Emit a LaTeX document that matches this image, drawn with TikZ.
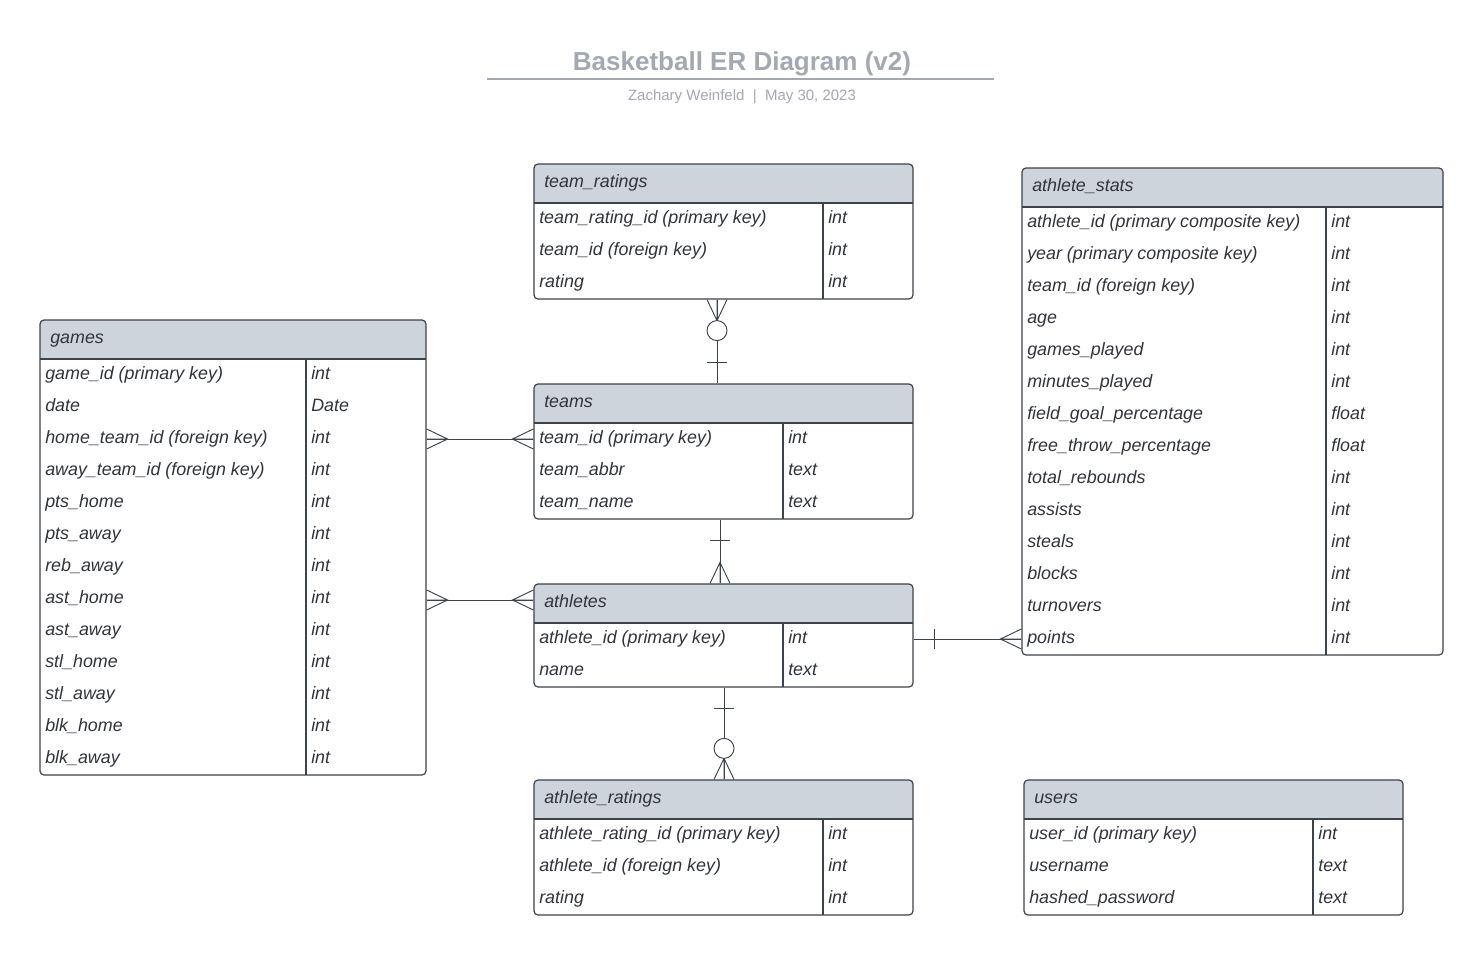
\documentclass[tikz,border=0pt]{standalone}
\usepackage{fontspec}
\setmainfont{Liberation Sans}
\usetikzlibrary{positioning,fit}

\definecolor{erborder}{HTML}{3D434B}
\definecolor{headfill}{HTML}{CED4DB}
\definecolor{ertext}{HTML}{30343B}
\definecolor{titlegray}{HTML}{A3A8B2}

\tikzset{
  fieldtext/.style={anchor=west, inner sep=0pt, text=ertext,
    font=\fontsize{13.4}{15}\selectfont\itshape, text height=9.8pt, text depth=3pt},
  connector/.style={draw=erborder, line width=0.7pt},
  crowmany/.pic={\draw[connector] (0,-10) -- (21,0) -- (0,10) (0,0) -- (21,0);},
  crowone/.pic={\draw[connector] (21,-10) -- (21,10);},
  crowzero/.pic={\draw[connector, fill=white] (31,0) circle (10);}
}

% one table: name, left, top, right, type column, title, rows
\newcommand{\ertable}[7]{%
  \foreach \fld/\typ [count=\k] in {#7}{\xdef\nrows{\k}}%
  \pgfmathsetmacro{\ybot}{#3+39+32*\nrows}%
  \fill[headfill, rounded corners=3pt] (#2,#3) rectangle (#4,#3+39);
  \fill[headfill] (#2,#3+20) rectangle (#4,#3+39);
  \node[fit={(#2,#3) (#4,\ybot)}, inner sep=0pt, draw=erborder, line width=0.9pt,
    rounded corners=3pt] (#1) {};
  \draw[erborder, line width=0.9pt] (#2,#3+39) -- (#4,#3+39) (#5,#3+39) -- (#5,\ybot);
  \node[fieldtext] (#1-head) at (#2+10,#3+19) {#6};
  \foreach \fld/\typ [count=\k] in {#7}{
    \node[fieldtext] (#1-\k) at (#2+5,#3+39+32*\k-16) {\fld};
    \node[fieldtext] (#1-type\k) at (#5+5,#3+39+32*\k-16) {\typ};
  }%
}

\begin{document}
\begin{tikzpicture}[x=0.75pt,y=-0.75pt]
  \fill[white] (0,0) rectangle (1484,956);
  \useasboundingbox (0,0) rectangle (1484,956);

  % title
  \node[text=titlegray, font=\fontsize{19.5}{22}\selectfont\bfseries] (title) at (742,64)
    {Basketball ER Diagram (v2)};
  \draw[titlegray, line width=1.2pt] (487,79) -- (994,79);
  \node[text=titlegray, font=\fontsize{11.25}{13}\selectfont] (subtitle) at (742,97)
    {Zachary Weinfeld~~|~~May 30, 2023};

  % tables
  \ertable{teamratings}{534}{164}{913}{823}{team\_ratings}
    {team\_rating\_id (primary key)/int, team\_id (foreign key)/int, rating/int}
  \ertable{athletestats}{1022}{168}{1443}{1326}{athlete\_stats}
    {athlete\_id (primary composite key)/int, year (primary composite key)/int,
     team\_id (foreign key)/int, age/int, games\_played/int, minutes\_played/int,
     field\_goal\_percentage/float, free\_throw\_percentage/float,
     total\_rebounds/int, assists/int, steals/int, blocks/int, turnovers/int,
     points/int}
  \ertable{games}{40}{320}{426}{306}{games}
    {game\_id (primary key)/int, date/Date, home\_team\_id (foreign key)/int,
     away\_team\_id (foreign key)/int, pts\_home/int, pts\_away/int, reb\_away/int,
     ast\_home/int, ast\_away/int, stl\_home/int, stl\_away/int, blk\_home/int,
     blk\_away/int}
  \ertable{teams}{534}{384}{913}{783}{teams}
    {team\_id (primary key)/int, team\_abbr/text, team\_name/text}
  \ertable{athletes}{534}{584}{913}{783}{athletes}
    {athlete\_id (primary key)/int, name/text}
  \ertable{athleteratings}{534}{780}{913}{823}{athlete\_ratings}
    {athlete\_rating\_id (primary key)/int, athlete\_id (foreign key)/int, rating/int}
  \ertable{users}{1024}{780}{1403}{1313}{users}
    {user\_id (primary key)/int, username/text, hashed\_password/text}

  % relationships
  \coordinate (link-tr) at (717,0);
  \coordinate (link-ta) at (720,0);
  \coordinate (link-ar) at (724,0);
  \coordinate (link-ga) at (0,600);

  \draw[connector] (teamratings.south -| link-tr) -- (teams.north -| link-tr);
  \pic[rotate=-90] at (teamratings.south -| link-tr) {crowmany};
  \pic[rotate=-90] at (teamratings.south -| link-tr) {crowzero};
  \pic[rotate=90] at (teams.north -| link-tr) {crowone};

  \draw[connector] (games.east |- teams-1) -- (teams.west |- teams-1);
  \pic at (games.east |- teams-1) {crowmany};
  \pic[rotate=180] at (teams.west |- teams-1) {crowmany};

  \draw[connector] (games.east |- link-ga) -- (athletes.west |- link-ga);
  \pic at (games.east |- link-ga) {crowmany};
  \pic[rotate=180] at (athletes.west |- link-ga) {crowmany};

  \draw[connector] (teams.south -| link-ta) -- (athletes.north -| link-ta);
  \pic[rotate=-90] at (teams.south -| link-ta) {crowone};
  \pic[rotate=90] at (athletes.north -| link-ta) {crowmany};

  \draw[connector] (athletes.east |- athletes-1) -- (athletestats.west |- athletestats-14);
  \pic at (athletes.east |- athletes-1) {crowone};
  \pic[rotate=180] at (athletestats.west |- athletestats-14) {crowmany};

  \draw[connector] (athletes.south -| link-ar) -- (athleteratings.north -| link-ar);
  \pic[rotate=-90] at (athletes.south -| link-ar) {crowone};
  \pic[rotate=90] at (athleteratings.north -| link-ar) {crowmany};
  \pic[rotate=90] at (athleteratings.north -| link-ar) {crowzero};
\end{tikzpicture}
\end{document}
